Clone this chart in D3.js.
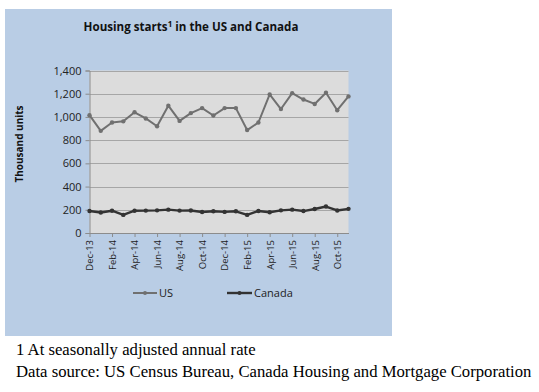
<!DOCTYPE html>
<html><head><meta charset="utf-8">
<script src="https://cdn.jsdelivr.net/npm/d3@7"></script>
<style>
html,body{margin:0;padding:0;background:#fff;}
svg{display:block;}
</style></head>
<body>
<svg id="chart" width="539" height="392"></svg>
<script>
const months = ["Dec-13","Jan-14","Feb-14","Mar-14","Apr-14","May-14","Jun-14","Jul-14","Aug-14","Sep-14","Oct-14","Nov-14","Dec-14","Jan-15","Feb-15","Mar-15","Apr-15","May-15","Jun-15","Jul-15","Aug-15","Sep-15","Oct-15","Nov-15"];
const usValues = [1015,880,952,962,1040,987,920,1097,966,1033,1076,1012,1076,1076,887,952,1194,1068,1205,1150,1112,1208,1058,1177];
const canadaValues = [189,177,192,156,192,193,195,201,193,194,181,187,182,187,156,190,179,195,201,189,207,228,194,208];
const yTicks = [0,200,400,600,800,1000,1200,1400];
const seriesNames = ["US","Canada"];

const svg = d3.select("#chart");
svg.append("rect").attr("x",5).attr("y",9).attr("width",387).attr("height",327).attr("fill","#b9cde5");

const L=89.5, R=348.5, T=70.5, B=233;
const x = d3.scalePoint().domain(months).range([L,R]);
const y = d3.scaleLinear().domain([0,1400]).range([B,T]);

svg.append("rect").attr("x",L).attr("y",T).attr("width",R-L).attr("height",B-T).attr("fill","#dcdcdc");

svg.append("g").selectAll("line").data(yTicks.filter(d=>d>0)).join("line")
  .attr("x1",L).attr("x2",R).attr("y1",d=>Math.round(y(d))+0.5).attr("y2",d=>Math.round(y(d))+0.5)
  .attr("stroke","#a6a6a6").attr("stroke-width",1);

const font = "'Open Sans', 'DejaVu Sans', sans-serif";

const yAxis = svg.append("g").attr("transform",`translate(${L},0)`)
  .call(d3.axisLeft(y).tickValues(yTicks).tickSize(4).tickFormat(d3.format(",")));
yAxis.select(".domain").attr("stroke","#8c8c8c");
yAxis.selectAll(".tick line").attr("stroke","#8c8c8c");
yAxis.selectAll("text").attr("font-family",font).attr("font-size","11px").attr("fill","#222").attr("x",-8);

const xAxis = svg.append("g").attr("transform",`translate(0,${B})`)
  .call(d3.axisBottom(x).tickValues(months.filter((d,i)=>i%2===0)).tickSize(4).tickSizeOuter(0));
xAxis.select(".domain").attr("stroke","#8c8c8c");
xAxis.selectAll(".tick line").attr("stroke","#8c8c8c");
xAxis.selectAll("text").attr("font-family",font).attr("font-size","9.5px").attr("fill","#222")
  .attr("transform","rotate(-90)").attr("text-anchor","end").attr("x",-7).attr("y",0).attr("dy","0.35em");

const line = d3.line().x((d,i)=>x(months[i])).y(d=>y(d));
const series = [
  {name:seriesNames[0], values:usValues, color:"#707070", w:2},
  {name:seriesNames[1], values:canadaValues, color:"#333333", w:2.4}
];
series.forEach(s=>{
  svg.append("path").datum(s.values).attr("d",line).attr("fill","none")
    .attr("stroke",s.color).attr("stroke-width",s.w).attr("stroke-linejoin","round");
  svg.append("g").selectAll("circle").data(s.values).join("circle")
    .attr("cx",(d,i)=>x(months[i])).attr("cy",d=>y(d)).attr("r",2.2).attr("fill",s.color);
});

const title = svg.append("text").attr("x",191).attr("y",31).attr("text-anchor","middle")
  .attr("font-family",font).attr("font-weight","bold").attr("font-size","11.6px").attr("fill","#111");
title.append("tspan").text("Housing starts");
title.append("tspan").text("1").attr("font-size","8px").attr("dy","-4");
title.append("tspan").text(" in the US and Canada").attr("dy","4");

svg.append("text").attr("transform","translate(23,144) rotate(-90)").attr("text-anchor","middle")
  .attr("font-family",font).attr("font-weight","bold").attr("font-size","10px").attr("fill","#111")
  .text("Thousand units");

const legend = [
  {name:seriesNames[0], color:"#707070", w:2, x1:133, x2:157},
  {name:seriesNames[1], color:"#333333", w:2.4, x1:227, x2:252}
];
const ly = 293;
legend.forEach(l=>{
  svg.append("line").attr("x1",l.x1).attr("x2",l.x2).attr("y1",ly).attr("y2",ly).attr("stroke",l.color).attr("stroke-width",l.w);
  svg.append("circle").attr("cx",(l.x1+l.x2)/2).attr("cy",ly).attr("r",2).attr("fill",l.color);
  svg.append("text").attr("x",l.x2+2).attr("y",ly).attr("dy","0.35em").attr("font-family",font)
    .attr("font-size","11px").attr("fill","#222").text(l.name);
});

const serif = "'Liberation Serif','Times New Roman',serif";
svg.append("text").attr("x",16).attr("y",355).attr("font-family",serif).attr("font-size","16.7px").attr("fill","#000")
  .text("1 At seasonally adjusted annual rate");
svg.append("text").attr("x",16).attr("y",377).attr("font-family",serif).attr("font-size","16.7px").attr("fill","#000")
  .text("Data source: US Census Bureau, Canada Housing and Mortgage Corporation");
</script>
</body></html>
